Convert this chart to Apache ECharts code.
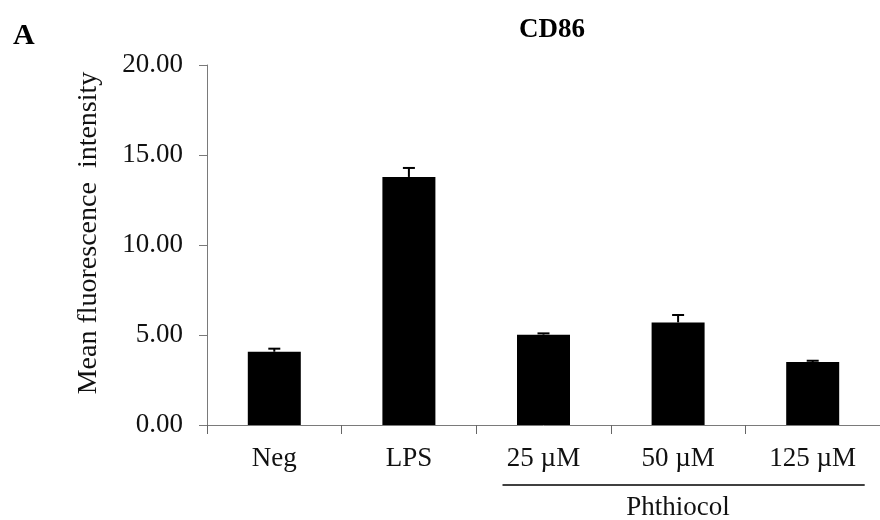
<!DOCTYPE html>
<html>
<head>
<meta charset="utf-8">
<script src="https://cdn.jsdelivr.net/npm/echarts@6/dist/echarts.min.js"></script>
<style>
  html, body { margin: 0; padding: 0; background: #fff; }
  #main { width: 880px; height: 520px; }
</style>
</head>
<body>
<div id="main"></div>
<script>
var categories = ['Neg', 'LPS', '25 \u00b5M', '50 \u00b5M', '125 \u00b5M'];
var means = [4.07, 13.78, 5.02, 5.70, 3.50];
var errors = [0.17, 0.50, 0.07, 0.41, 0.07];
var yTicks = [0, 5, 10, 15, 20];
var groupLabel = 'Phthiocol';

var serif = '"Liberation Serif", "Times New Roman", serif';
var myChart = echarts.init(document.getElementById('main'));

myChart.setOption({
  animation: false,
  title: [
    {
      text: 'CD86',
      left: 547, top: 12, textAlign: 'center',
      textStyle: { fontFamily: serif, fontWeight: 'bold', fontSize: 27, color: '#000' }
    },
    {
      text: 'A',
      left: 8, top: 16,
      textStyle: { fontFamily: serif, fontWeight: 'bold', fontSize: 30, color: '#000' }
    }
  ],
  grid: { left: 207, top: 65, width: 674, height: 360 },
  xAxis: {
    type: 'category',
    data: categories,
    axisLine: { lineStyle: { color: '#7a7a7a', width: 1 } },
    axisTick: { show: true, alignWithLabel: false, interval: 0, length: 9, lineStyle: { color: '#666', width: 1 } },
    axisLabel: { margin: 20, fontFamily: serif, fontSize: 27, color: '#111' }
  },
  yAxis: {
    type: 'value',
    min: yTicks[0],
    max: yTicks[yTicks.length - 1],
    interval: yTicks[1] - yTicks[0],
    name: 'Mean fluorescence  intensity',
    nameLocation: 'middle',
    nameGap: 104,
    nameTextStyle: { fontFamily: serif, fontSize: 28, color: '#111', padding: [0, 0, 0, 24] },
    splitLine: { show: false },
    axisLine: { show: true, lineStyle: { color: '#7a7a7a', width: 1 } },
    axisTick: { show: true, length: 8, lineStyle: { color: '#7a7a7a' } },
    axisLabel: {
      margin: 24, fontFamily: serif, fontSize: 27, color: '#111',
      formatter: function (v) { return v.toFixed(2); }
    }
  },
  series: [
    {
      type: 'bar',
      data: means,
      barWidth: 53,
      itemStyle: { color: '#000' }
    },
    {
      type: 'custom',
      data: means.map(function (m, i) { return [i, m, m + errors[i]]; }),
      renderItem: function (params, api) {
        var base = api.coord([api.value(0), api.value(1)]);
        var top = api.coord([api.value(0), api.value(2)]);
        var half = 6;
        var style = { stroke: '#000', lineWidth: 2 };
        return {
          type: 'group',
          children: [
            { type: 'line', shape: { x1: base[0], y1: base[1], x2: top[0], y2: top[1] }, style: style },
            { type: 'line', shape: { x1: top[0] - half, y1: top[1], x2: top[0] + half, y2: top[1] }, style: style }
          ]
        };
      },
      z: 3
    }
  ]
});

// bracket under the Phthiocol groups, placed from the axis scale
var first = myChart.convertToPixel({ xAxisIndex: 0 }, categories[2]);
var mid = myChart.convertToPixel({ xAxisIndex: 0 }, categories[3]);
var last = myChart.convertToPixel({ xAxisIndex: 0 }, categories[4]);
var baseY = myChart.convertToPixel({ yAxisIndex: 0 }, 0);
myChart.setOption({
  graphic: [
    {
      type: 'line',
      shape: { x1: first - 41, y1: baseY + 60, x2: last + 52, y2: baseY + 60 },
      style: { stroke: '#000', lineWidth: 1.5 }
    },
    {
      type: 'text',
      x: mid, y: baseY + 83,
      style: {
        text: groupLabel, fontFamily: serif, fontSize: 27, fill: '#111',
        align: 'center', verticalAlign: 'middle'
      }
    }
  ]
});
</script>
</body>
</html>
